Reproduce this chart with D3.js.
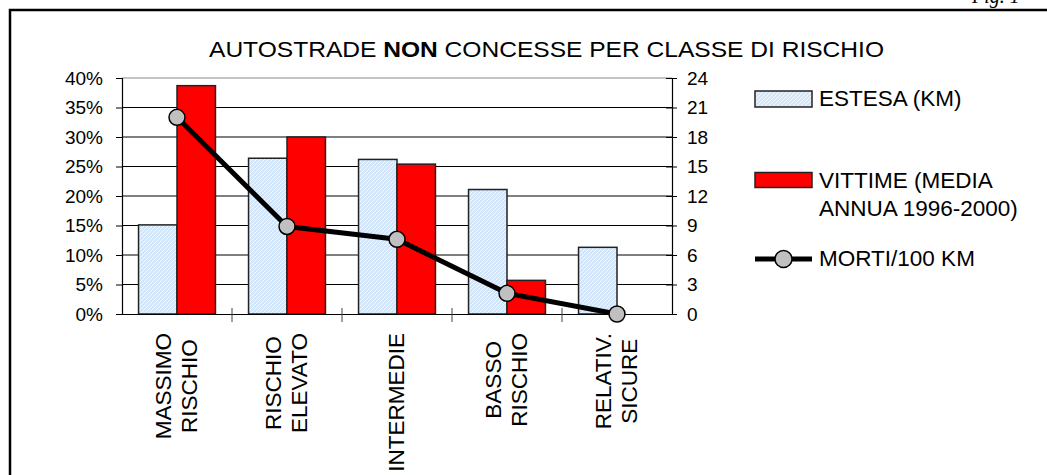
<!DOCTYPE html>
<html>
<head>
<meta charset="utf-8">
<script src="https://cdn.jsdelivr.net/npm/d3@7"></script>
<style>
  body { margin: 0; background: #fff; }
  svg { display: block; font-family: Arial, "Liberation Sans", sans-serif; }
</style>
</head>
<body>
<svg id="chart" width="1047" height="475"></svg>
<script>
var categories = [
  ["MASSIMO", "RISCHIO"],
  ["RISCHIO", "ELEVATO"],
  ["INTERMEDIE"],
  ["BASSO", "RISCHIO"],
  ["RELATIV.", "SICURE"],
];
var estesa = [15.1, 26.4, 26.2, 21.1, 11.3];
var vittime = [38.7, 30.0, 25.4, 5.7, 0];
var morti = [20.0, 8.9, 7.6, 2.1, 0];
var leftTicks = [0, 5, 10, 15, 20, 25, 30, 35, 40];
var rightTicks = [0, 3, 6, 9, 12, 15, 18, 21, 24];
var seriesNames = ["ESTESA (KM)", "VITTIME (MEDIA\nANNUA 1996-2000)", "MORTI/100 KM"];

var svg = d3.select("#chart");

var plotLeft = 122,
  plotRight = 672,
  plotTop = 78,
  plotBottom = 314;

var defs = svg.append("defs");
var pat = defs
  .append("pattern")
  .attr("id", "hatch")
  .attr("patternUnits", "userSpaceOnUse")
  .attr("width", 4)
  .attr("height", 4);
pat.append("rect").attr("width", 4).attr("height", 4).attr("fill", "#d3e5f8");
pat
  .append("path")
  .attr("d", "M-1,1 l2,-2 M0,4 l4,-4 M3,5 l2,-2")
  .attr("stroke", "#f4f9fe")
  .attr("stroke-width", 1);

// frame
svg
  .append("path")
  .attr("d", "M10,475 V10 H1047")
  .attr("fill", "none")
  .attr("stroke", "#000")
  .attr("stroke-width", 2.5);

svg
  .append("text")
  .attr("x", 972)
  .attr("y", 3)
  .style("font-family", "'Liberation Serif', 'Times New Roman', serif")
  .style("font-style", "italic")
  .style("font-size", "20px")
  .text("Fig. 1");

var x = d3
  .scaleBand()
  .domain(d3.range(categories.length))
  .range([plotLeft, plotRight]);

var xs = d3
  .scaleBand()
  .domain([0, 1])
  .range([0, x.bandwidth()])
  .paddingOuter(0.43);

var yL = d3.scaleLinear().domain([0, 40]).range([plotBottom, plotTop]);
var yR = d3.scaleLinear().domain([0, 24]).range([plotBottom, plotTop]);

// title
var title = svg
  .append("text")
  .attr("x", 209)
  .attr("y", 57)
  .attr("textLength", 675)
  .attr("lengthAdjust", "spacingAndGlyphs")
  .style("font-size", "22px");
title.append("tspan").text("AUTOSTRADE ");
title.append("tspan").style("font-weight", "bold").text("NON");
title.append("tspan").text(" CONCESSE PER CLASSE DI RISCHIO");

// gridlines
svg
  .append("g")
  .selectAll("line")
  .data(leftTicks.slice(1))
  .enter()
  .append("line")
  .attr("x1", plotLeft)
  .attr("x2", plotRight)
  .attr("y1", function (d) {
    return yL(d);
  })
  .attr("y2", function (d) {
    return yL(d);
  })
  .attr("stroke", function (d) {
    return d == 40 ? "#888" : "#000";
  })
  .attr("stroke-width", 1);

// bars
var groups = svg
  .append("g")
  .selectAll("g")
  .data(categories)
  .enter()
  .append("g")
  .attr("transform", function (d, i) {
    return "translate(" + x(i) + ",0)";
  });

groups
  .append("rect")
  .attr("x", xs(0))
  .attr("width", xs.bandwidth())
  .attr("y", function (d, i) {
    return yL(estesa[i]);
  })
  .attr("height", function (d, i) {
    return plotBottom - yL(estesa[i]);
  })
  .attr("fill", "url(#hatch)")
  .attr("stroke", "#222")
  .attr("stroke-width", 1.5);

groups
  .filter(function (d, i) {
    return vittime[i] > 0;
  })
  .append("rect")
  .attr("x", xs(1))
  .attr("width", xs.bandwidth())
  .attr("y", function (d) {
    return yL(vittime[categories.indexOf(d)]);
  })
  .attr("height", function (d) {
    return plotBottom - yL(vittime[categories.indexOf(d)]);
  })
  .attr("fill", "#ff0000")
  .attr("stroke", "#222")
  .attr("stroke-width", 1.5);

// axes
var axisL = svg
  .append("g")
  .attr("transform", "translate(" + plotLeft + ",0)")
  .call(
    d3
      .axisLeft(yL)
      .tickValues(leftTicks)
      .tickSize(6)
      .tickPadding(13)
      .tickFormat(function (d) {
        return d + "%";
      })
  );

var axisR = svg
  .append("g")
  .attr("transform", "translate(" + plotRight + ",0)")
  .call(d3.axisRight(yR).tickValues(rightTicks).tickSize(5).tickPadding(10));
axisR.selectAll(".tick line").attr("x1", -6);

var axisB = svg
  .append("g")
  .attr("transform", "translate(0," + plotBottom + ")")
  .call(d3.axisBottom(x).tickValues([]).tickSizeOuter(0));
axisB
  .selectAll("line.sep")
  .data(d3.range(1, categories.length))
  .enter()
  .append("line")
  .attr("class", "sep")
  .attr("x1", function (d) {
    return x(d);
  })
  .attr("x2", function (d) {
    return x(d);
  })
  .attr("y1", -6)
  .attr("y2", 8)
  .attr("stroke", "#444");

[axisL, axisR, axisB].forEach(function (a) {
  a.selectAll("path.domain").attr("stroke", "#000").attr("stroke-width", 1.2);
  a.selectAll(".tick line").attr("stroke", "#000");
  a.selectAll("text")
    .style("font-size", "19px")
    .style("font-family", "Arial, 'Liberation Sans', sans-serif")
    .attr("fill", "#000");
});

// category labels
var labelTop = 333,
  catFont = 22.5,
  capH = 0.716 * catFont;
groups.each(function (lines) {
  var g = d3
    .select(this)
    .append("g")
    .attr(
      "transform",
      "translate(" + x.bandwidth() / 2 + "," + labelTop + ") rotate(-90)"
    );
  var texts = g
    .selectAll("text")
    .data(lines)
    .enter()
    .append("text")
    .style("font-size", catFont + "px")
    .attr("text-anchor", "middle")
    .text(function (d) {
      return d;
    });
  var maxLen = d3.max(texts.nodes(), function (n) {
    return n.getComputedTextLength();
  });
  texts
    .attr("x", -maxLen / 2)
    .attr("y", function (d, k) {
      var off = (k - (lines.length - 1) / 2) * 26 - 1;
      return off + capH / 2;
    });
});

// line series
var line = d3
  .line()
  .x(function (d, i) {
    return x(i) + x.bandwidth() / 2;
  })
  .y(function (d) {
    return yR(d);
  });

svg
  .append("path")
  .datum(morti)
  .attr("d", line)
  .attr("fill", "none")
  .attr("stroke", "#000")
  .attr("stroke-width", 5)
  .attr("stroke-linejoin", "round");

svg
  .append("g")
  .selectAll("circle")
  .data(morti)
  .enter()
  .append("circle")
  .attr("cx", function (d, i) {
    return x(i) + x.bandwidth() / 2;
  })
  .attr("cy", function (d) {
    return yR(d);
  })
  .attr("r", 8)
  .attr("fill", "#c0c0c0")
  .attr("stroke", "#000")
  .attr("stroke-width", 1.5);

// legend
var legend = svg.append("g").attr("transform", "translate(755,0)");
legend
  .append("rect")
  .attr("x", 0)
  .attr("y", 91)
  .attr("width", 57)
  .attr("height", 16)
  .attr("fill", "url(#hatch)")
  .attr("stroke", "#222")
  .attr("stroke-width", 1.5);
legend
  .append("rect")
  .attr("x", 0)
  .attr("y", 172.5)
  .attr("width", 57)
  .attr("height", 15)
  .attr("fill", "#ff0000")
  .attr("stroke", "#222")
  .attr("stroke-width", 1.5);
legend
  .append("line")
  .attr("x1", 0)
  .attr("x2", 57)
  .attr("y1", 259)
  .attr("y2", 259)
  .attr("stroke", "#000")
  .attr("stroke-width", 5);
legend
  .append("circle")
  .attr("cx", 28.5)
  .attr("cy", 259)
  .attr("r", 8.5)
  .attr("fill", "#c0c0c0")
  .attr("stroke", "#000")
  .attr("stroke-width", 1.5);

var legendY = [106, 188, 266];
seriesNames.forEach(function (name, i) {
  var t = legend
    .append("text")
    .attr("x", 64)
    .attr("y", legendY[i])
    .style("font-size", "22.5px");
  name.split("\n").forEach(function (part, k) {
    t.append("tspan")
      .attr("x", 64)
      .attr("dy", k == 0 ? 0 : 28)
      .text(part);
  });
});
</script>
</body>
</html>
